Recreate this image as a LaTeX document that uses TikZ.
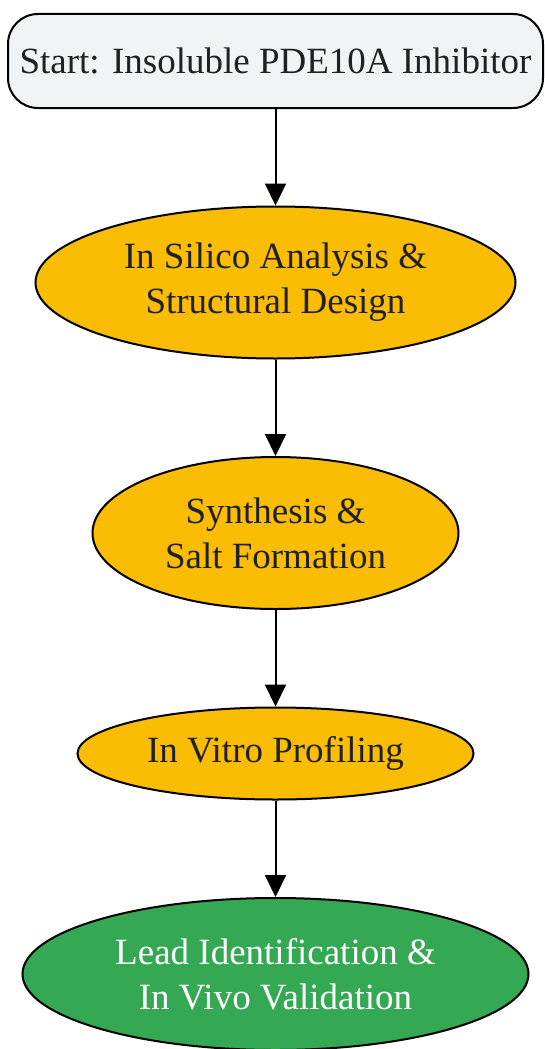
\documentclass[tikz,border=0pt]{standalone}
\usepackage{fontspec}
\setmainfont{Liberation Serif}
\usetikzlibrary{positioning,shapes.geometric,arrows.meta}

\definecolor{startgray}{HTML}{F1F3F4}
\definecolor{stepyellow}{HTML}{FBBC04}
\definecolor{leadgreen}{HTML}{34A853}
\definecolor{inkgray}{HTML}{202124}

\begin{document}
\begin{tikzpicture}[x=1pt,y=1pt,node distance=96.5pt,
    every node/.style={align=center,font=\fontsize{37}{45}\selectfont,text=inkgray},
    startbox/.style={draw,line width=2pt,rounded corners=30pt,fill=startgray,
      minimum width=535pt,minimum height=94pt,inner sep=0pt},
    stage/.style={ellipse,draw,line width=2pt,fill=stepyellow,inner sep=0pt},
    flow/.style={-{Triangle[length=22pt,width=21pt]},line width=2pt}
  ]
  \useasboundingbox (0,0) rectangle (545,-1049);

  \node[startbox] (start) at (275.5,-61) {Start: Insoluble PDE10A Inhibitor};
  \node[stage,minimum width=480pt,minimum height=152pt,below=of start] (design)
    {In Silico Analysis \&\\Structural Design};
  \node[stage,minimum width=366pt,minimum height=152pt,below=of design] (synth)
    {Synthesis \&\\Salt Formation};
  \node[stage,minimum width=396pt,minimum height=92pt,below=of synth] (vitro)
    {In Vitro Profiling};
  \node[stage,minimum width=506pt,minimum height=152pt,fill=leadgreen,text=white,
    below=of vitro] (lead) {Lead Identification \&\\In Vivo Validation};

  % connectors
  \foreach \a/\b in {start/design,design/synth,synth/vitro,vitro/lead}
    \draw[flow] (\a) -- (\b);
\end{tikzpicture}
\end{document}
